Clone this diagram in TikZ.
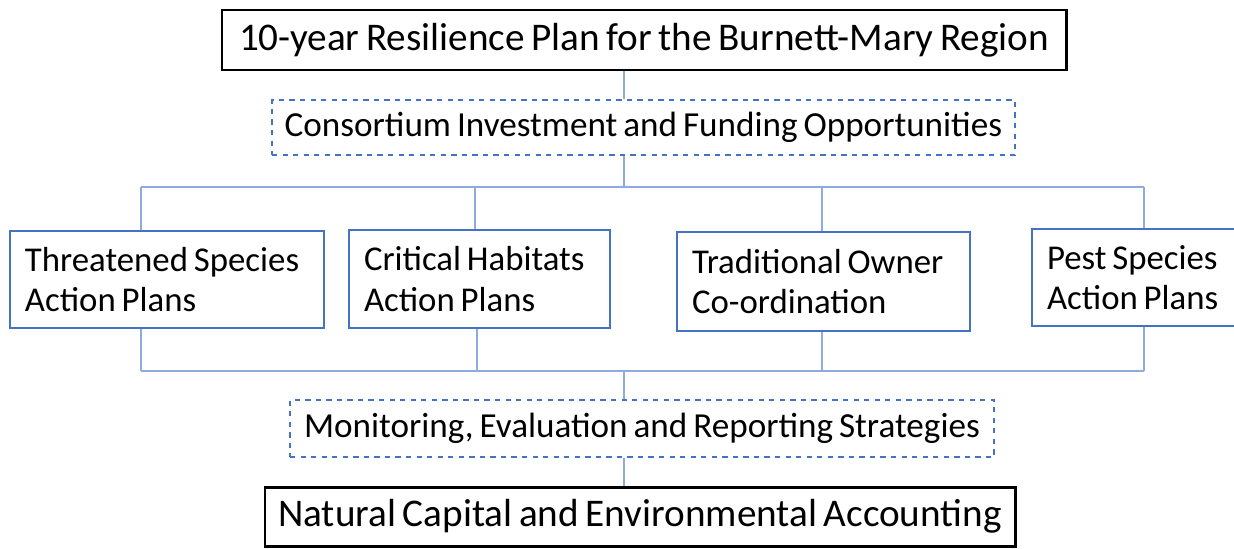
\documentclass[tikz,border=0pt]{standalone}
\usepackage{fontspec}
\setmainfont[WordSpace=0.75]{Carlito}
\usetikzlibrary{positioning}
\definecolor{boxblue}{HTML}{4472C4}
\definecolor{linkblue}{HTML}{8FAADC}
\tikzstyle{mainbox}=[draw=black,line width=1.7pt,inner sep=0pt,font=\fontsize{22.3}{26}\selectfont]
\tikzstyle{dashbox}=[draw=boxblue,dashed,line width=0.8pt,inner sep=0pt,font=\fontsize{20}{24}\selectfont]
\tikzstyle{planbox}=[draw=boxblue,line width=0.9pt,inner xsep=0.3cm,inner ysep=0pt,align=flush left,font=\fontsize{19.8}{23}\selectfont]
\tikzstyle{link}=[draw=linkblue,line width=0.6pt]

\begin{document}
\begin{tikzpicture}
        \useasboundingbox (0,0) rectangle (24.68,-10.96);
        \clip (0,0) rectangle (24.68,-10.96);
        % top and bottom of the chain
        \node at (12.88,-0.80) [mainbox,minimum width=16.88cm,minimum height=1.20cm] (plan) {10-year Resilience Plan for the Burnett-Mary Region};
        \node at (12.87,-2.55) [dashbox,minimum width=14.86cm,minimum height=1.10cm] (cons) {Consortium Investment and Funding Opportunities};
        \node at (12.84,-8.57) [dashbox,minimum width=14.08cm,minimum height=1.14cm] (mon) {Monitoring, Evaluation and Reporting Strategies};
        \node at (12.80,-10.33) [mainbox,minimum width=15.00cm,minimum height=1.18cm] (nat) {Natural Capital and Environmental Accounting};
        % action plans
        \node at (3.34,-5.59) [planbox,text width=5.68cm,minimum height=1.94cm] (ts) {Threatened Species\\Action Plans};
        \node at (9.59,-5.58) [planbox,text width=4.62cm,minimum height=1.96cm] (ch) {Critical Habitats\\Action Plans};
        \node at (16.47,-5.63) [planbox,text width=5.26cm,minimum height=1.98cm] (to) {Traditional Owner\\Co-ordination};
        \node at (22.88,-5.55) [planbox,text width=3.88cm,minimum height=1.94cm] (ps) {Pest Species\\Action Plans};
        % bus lines
        \coordinate (topmid) at (12.48,-3.74);
        \coordinate (topL) at (2.82,-3.74);
        \coordinate (topR) at (22.88,-3.74);
        \coordinate (botmid) at (12.48,-7.42);
        \coordinate (botL) at (2.82,-7.42);
        \coordinate (botR) at (22.88,-7.42);
        \draw [link] (plan.south -| topmid) -- (cons.north -| topmid);
        \draw [link] (cons.south -| topmid) -- (topmid);
        \draw [link] (topL) -- (topR);
        \draw [link] (topL) -- (ts.north -| topL);
        \draw [link] (ch.north -| 9.50,0) -- (9.50,-3.74);
        \draw [link] (to.north -| 16.44,0) -- (16.44,-3.74);
        \draw [link] (topR) -- (ps.north -| topR);
        \draw [link] (ts.south -| botL) -- (botL);
        \draw [link] (ch.south -| 9.54,0) -- (9.54,-7.42);
        \draw [link] (to.south -| 16.44,0) -- (16.44,-7.42);
        \draw [link] (ps.south -| botR) -- (botR);
        \draw [link] (botL) -- (botR);
        \draw [link] (botmid) -- (mon.north -| botmid);
        \draw [link] (mon.south -| botmid) -- (nat.north -| botmid);
      \end{tikzpicture}
\end{document}
